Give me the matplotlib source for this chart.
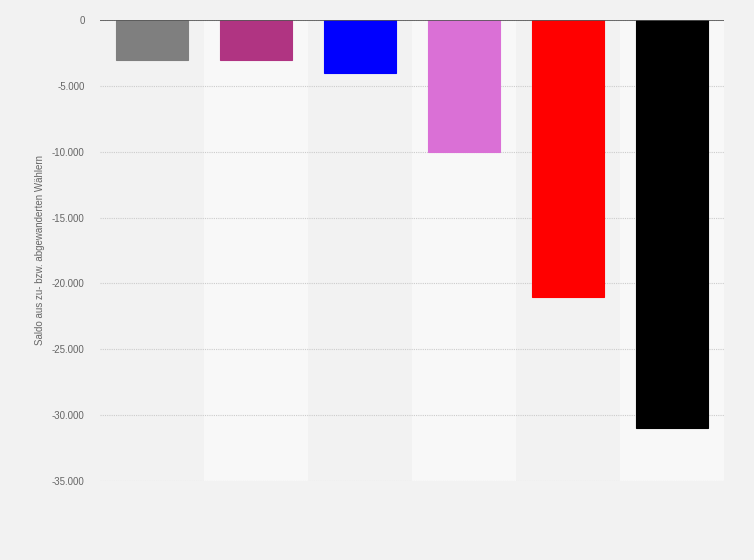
import numpy as np
import matplotlib.pyplot as plt
from matplotlib.ticker import FuncFormatter

plt.rcParams['font.family'] = ['Liberation Sans', 'DejaVu Sans']

# Data
parties = ['A', 'B', 'C', 'D', 'E', 'F']
saldo = [-3000, -3000, -4000, -10000, -21000, -31000]
colors = ['#7f7f7f', '#b03482', '#0000ff', '#da70d6', '#ff0000', '#000000']
yticks = [0, -5000, -10000, -15000, -20000, -25000, -30000, -35000]

W, H = 754, 560
fig = plt.figure(figsize=(W / 100, H / 100), dpi=100)
fig.patch.set_facecolor('#f2f2f2')
ax = fig.add_axes([100 / W, 1 - 481 / H, 624 / W, 461 / H])
ax.set_facecolor('#f2f2f2')

x = np.arange(len(parties))
# alternating column bands
for i in x:
    if i % 2 == 1:
        ax.axvspan(i - 0.5, i + 0.5, color='#f8f8f8', zorder=0, lw=0)

ax.bar(x, saldo, width=0.69, color=colors, edgecolor=colors, linewidth=0.8, zorder=3)

ax.set_xlim(-0.5, len(parties) - 0.5)
ax.set_ylim(-35000, 0)
ax.set_yticks(yticks)
ax.yaxis.set_major_formatter(FuncFormatter(lambda v, p: f'{int(v):,}'.replace(',', '.')))
ax.tick_params(axis='y', length=0, pad=11, labelsize=7, labelcolor='#666666')
ax.set_xticks([])
ax.grid(axis='y', linestyle=(0, (1, 1)), color='#cccccc', linewidth=0.8, zorder=1)
ax.axhline(0, color='#555555', linewidth=1.2, zorder=4)
for s in ax.spines.values():
    s.set_visible(False)

fig.text(40 / W, 1 - 250 / H, 'Saldo aus zu- bzw. abgewanderten Wählern', rotation=90,
         ha='center', va='center', fontsize=7, color='#666666')

fig.savefig('out.png', dpi=100, facecolor=fig.get_facecolor())
